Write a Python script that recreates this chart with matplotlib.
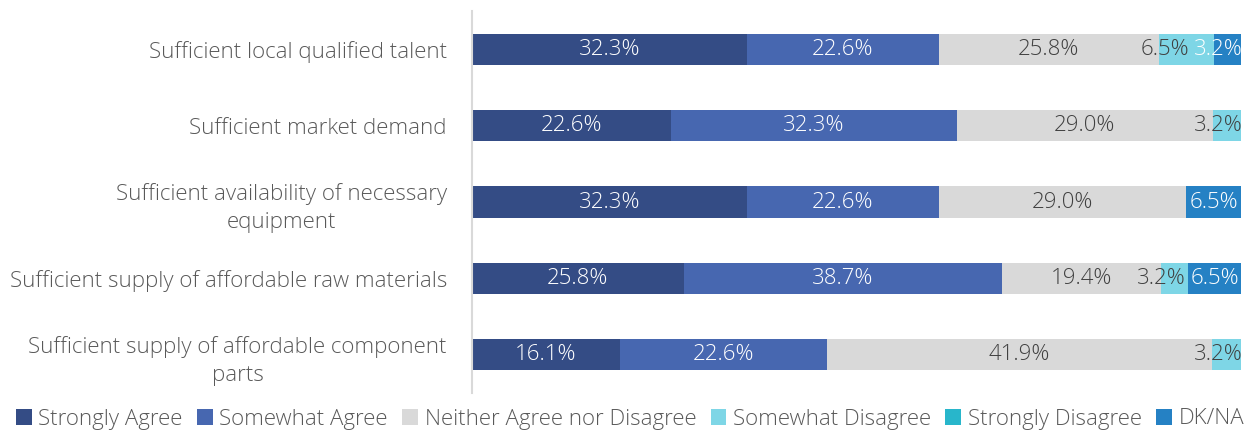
import matplotlib.pyplot as plt
import numpy as np

categories = [
    "Sufficient local qualified talent",
    "Sufficient market demand",
    "Sufficient availability of necessary\nequipment",
    "Sufficient supply of affordable raw materials",
    "Sufficient supply of affordable component\nparts",
]
series = [
    "Strongly Agree",
    "Somewhat Agree",
    "Neither Agree nor Disagree",
    "Somewhat Disagree",
    "Strongly Disagree",
    "DK/NA",
]
strongly_agree = [32.3, 22.6, 32.3, 25.8, 16.1]
somewhat_agree = [22.6, 32.3, 22.6, 38.7, 22.6]
neither = [25.8, 29.0, 29.0, 19.4, 41.9]
somewhat_disagree = [6.5, 3.2, 0.0, 3.2, 3.2]
strongly_disagree = [0.0, 0.0, 0.0, 0.0, 0.0]
dk_na = [3.2, 0.0, 6.5, 6.5, 0.0]

colors = ["#344C85", "#4767B0", "#D9D9D9", "#7ED6E6", "#28B6CB", "#2581C4"]
label_colors = ["white", "white", "#404040", "#404040", "white", "white"]

FONT = ["Open Sans", "DejaVu Sans"]
plt.rcParams["font.family"] = FONT
plt.rcParams["font.weight"] = "light"

values = np.array([strongly_agree, somewhat_agree, neither,
                   somewhat_disagree, strongly_disagree, dk_na])
# 100% stacked: every bar spans the full width
shares = values / values.sum(axis=0)

fig = plt.figure(figsize=(12.55, 4.32), dpi=100)
ax = fig.add_axes([0.376, 0.0903, 0.613, 0.8842])

ypos = np.arange(len(categories))
left = np.zeros(len(categories))
texts = [[] for _ in categories]
for i, name in enumerate(series):
    ax.barh(ypos, shares[i], left=left, height=0.41, color=colors[i],
            label=name, linewidth=0)
    for j in range(len(categories)):
        if values[i, j] > 0:
            t = ax.text(left[j] + shares[i, j] / 2, ypos[j],
                        f"{values[i, j]:.1f}%", ha="center", va="center",
                        fontsize=16, color=label_colors[i])
            texts[j].append(t)
    left += shares[i]

ax.set_xlim(0, 1)
ax.set_ylim(len(categories) - 0.5, -0.5)
ax.set_yticks(ypos)
ax.set_yticklabels(categories, fontsize=16, color="#595959",
                   multialignment="center", linespacing=1.45)
ax.tick_params(axis="y", length=0, pad=18)
ax.set_xticks([])
for s in ["top", "right", "bottom"]:
    ax.spines[s].set_visible(False)
ax.spines["left"].set_color("#D9D9D9")
ax.spines["left"].set_linewidth(1.5)

# keep value labels inside the plot area and stop them overlapping
fig.canvas.draw()
renderer = fig.canvas.get_renderer()
inv = ax.transData.inverted()
gap = 4
for row in texts:
    limit = ax.transData.transform((1.0, 0))[0] + 1
    for t in reversed(row):
        bb = t.get_window_extent(renderer)
        if bb.x1 > limit:
            shift = bb.x1 - limit
            x, y = t.get_position()
            xd = ax.transData.transform((x, y))[0] - shift
            t.set_x(inv.transform((xd, 0))[0])
            bb = t.get_window_extent(renderer)
        limit = bb.x0 - gap

handles, labels = ax.get_legend_handles_labels()
fig.legend(handles, labels, loc="center left", bbox_to_anchor=(0.004, 13 / 432),
           ncol=6, frameon=False, fontsize=16, handlelength=0.7,
           handleheight=0.7, handletextpad=0.3, columnspacing=0.65,
           labelcolor="#595959", borderpad=0)

fig.savefig("out.png", dpi=100)
